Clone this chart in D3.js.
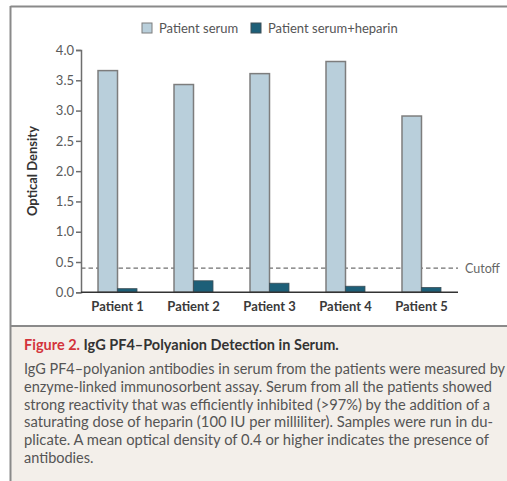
<!DOCTYPE html>
<html>
<head>
<meta charset="utf-8">
<script src="https://cdn.jsdelivr.net/npm/d3@7"></script>
<style>
  body { margin: 0; background: #fff; }
  svg { display: block; }
  text { font-family: Lato, "Open Sans", sans-serif; }
</style>
</head>
<body>
<svg id="chart" width="507" height="481"></svg>
<script>
// ---- data ----
const categories = ["Patient 1", "Patient 2", "Patient 3", "Patient 4", "Patient 5"];
const seriesNames = ["Patient serum", "Patient serum+heparin"];
const serumValues = [3.66, 3.43, 3.61, 3.81, 2.91];
const heparinValues = [0.06, 0.19, 0.15, 0.10, 0.08];
const yTicks = [0, 0.5, 1.0, 1.5, 2.0, 2.5, 3.0, 3.5, 4.0];
const cutoffValue = 0.4;
const cutoffLabel = "Cutoff";
const yLabel = "Optical Density";
const captionFigure = "Figure 2.";
const captionTitle = " IgG PF4–Polyanion Detection in Serum.";
const captionLines = [
  "IgG PF4–polyanion antibodies in serum from the patients were measured by",
  "enzyme-linked immunosorbent assay. Serum from all the patients showed",
  "strong reactivity that was efficiently inhibited (>97%) by the addition of a",
  "saturating dose of heparin (100 IU per milliliter). Samples were run in du-",
  "plicate. A mean optical density of 0.4 or higher indicates the presence of",
  "antibodies."
];
const captionLineEnds = [505, 492, 490, 493, 489, null];

const colors = ["#b9cfdb", "#1d5f78"];

const svg = d3.select("#chart");

// frame
svg.append("rect").attr("x", 0).attr("y", 0).attr("width", 507).attr("height", 481).attr("fill", "#fff");
svg.append("rect").attr("x", 11).attr("y", 326).attr("width", 496).attr("height", 155).attr("fill", "#f3efea");
svg.append("line").attr("x1", 10.5).attr("x2", 507).attr("y1", 6.5).attr("y2", 6.5).attr("stroke", "#8a8a8a").attr("stroke-width", 2);
svg.append("line").attr("x1", 10.5).attr("x2", 10.5).attr("y1", 6).attr("y2", 481).attr("stroke", "#8a8a8a").attr("stroke-width", 2);
svg.append("line").attr("x1", 10).attr("x2", 507).attr("y1", 326).attr("y2", 326).attr("stroke", "#8a8a8a").attr("stroke-width", 2);

// scales
const x0 = d3.scaleBand().domain(categories).range([81, 458]).paddingInner(0.487).paddingOuter(0.224);
const x1 = d3.scaleBand().domain(seriesNames).range([0, x0.bandwidth()]);
const y = d3.scaleLinear().domain([0, 4]).range([292.3, 50]);

// cutoff line (behind bars)
svg.append("line")
  .attr("x1", 81).attr("x2", 458)
  .attr("y1", y(cutoffValue)).attr("y2", y(cutoffValue))
  .attr("stroke", "#707070").attr("stroke-width", 1.2).attr("stroke-dasharray", "4.5,3");
svg.append("text").attr("x", 465).attr("y", y(cutoffValue) + 4.5)
  .attr("font-size", 12.5).attr("fill", "#666").text(cutoffLabel);

// bars
const groups = svg.append("g").selectAll("g").data(categories).join("g")
  .attr("transform", d => `translate(${x0(d)},0)`);
groups.append("rect")
  .attr("x", x1(seriesNames[0])).attr("width", x1.bandwidth())
  .attr("y", (d, i) => y(serumValues[i])).attr("height", (d, i) => y(0) - y(serumValues[i]))
  .attr("fill", colors[0]).attr("stroke", "#7d7d7d").attr("stroke-width", 1.5);
groups.append("rect")
  .attr("x", x1(seriesNames[1])).attr("width", x1.bandwidth())
  .attr("y", (d, i) => y(heparinValues[i])).attr("height", (d, i) => y(0) - y(heparinValues[i]))
  .attr("fill", colors[1]).attr("stroke", "#3d4f57").attr("stroke-width", 0.8);

// y axis
const yAxis = d3.axisLeft(y).tickValues(yTicks).tickFormat(d3.format(".1f")).tickSize(5).tickPadding(2);
const yg = svg.append("g").attr("transform", "translate(81,0)").call(yAxis);
yg.select(".domain").attr("stroke", "#6e6e6e").attr("stroke-width", 1.5);
yg.selectAll(".tick line").attr("stroke", "#6e6e6e").attr("stroke-width", 1.5);
yg.selectAll(".tick text").attr("font-size", 13).attr("fill", "#5a5a5a").attr("font-family", "Lato, sans-serif");

// x axis
const xAxis = d3.axisBottom(x0).tickSize(0).tickPadding(9);
const xg = svg.append("g").attr("transform", `translate(0,${y(0)})`).call(xAxis);
xg.select(".domain").attr("stroke", "#333").attr("stroke-width", 1.6).attr("d", "M81,0H458");
xg.selectAll(".tick text").attr("font-size", 13).attr("font-weight", "bold").attr("fill", "#3a3a3a").attr("font-family", "Lato, sans-serif");

// y label
svg.append("text").attr("transform", "translate(37,171) rotate(-90)")
  .attr("text-anchor", "middle").attr("font-size", 13).attr("font-weight", "bold").attr("fill", "#333").text(yLabel);

// legend
const legendX = [142, 251];
seriesNames.forEach((s, i) => {
  svg.append("rect").attr("x", legendX[i]).attr("y", 23).attr("width", 10).attr("height", 10)
    .attr("fill", colors[i]).attr("stroke", i === 0 ? "#7d7d7d" : "#3d4f57").attr("stroke-width", 1);
  svg.append("text").attr("x", legendX[i] + 17).attr("y", 32.5).attr("font-size", 13).attr("fill", "#555").text(s);
});

// caption
const t = svg.append("text").attr("x", 24).attr("y", 350).attr("font-size", 14.5).attr("font-weight", "bold");
t.append("tspan").attr("fill", "#d3343c").text(captionFigure);
t.append("tspan").attr("fill", "#333").text(captionTitle);

captionLines.forEach((line, i) => {
  const tx = svg.append("text").attr("x", 24).attr("y", 374 + i * 17.8)
    .attr("font-size", 14.5).attr("fill", "#555").text(line);
  if (captionLineEnds[i]) tx.attr("textLength", captionLineEnds[i] - 24).attr("lengthAdjust", "spacingAndGlyphs");
});
</script>
</body>
</html>
